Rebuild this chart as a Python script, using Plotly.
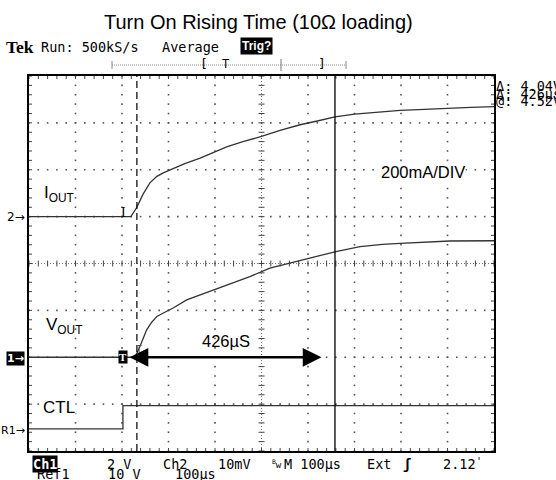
import numpy as np
import plotly.graph_objects as go

# ---------------- data ----------------
# time axis: microseconds, 100 us / div, 10 divs
t_iout = [0, 100, 219, 232, 245, 260, 275, 290, 303, 335, 368, 400, 425, 460, 500,
          540, 583, 620, 658, 700, 750, 798, 850, 900, 950, 1000]
iout_mA = [0, 0, 0, 40, 95, 144, 172, 188, 200, 226, 250, 276, 298, 320, 342,
           368, 392, 408, 426, 437, 446, 453, 458, 463, 466, 469]

t_vout = [0, 100, 228, 239, 253, 264, 275, 290, 310, 339, 368, 420, 475, 518, 561,
          604, 660, 712, 760, 798, 850, 905, 1000]
vout_V = [0, 0, 0, 0.48, 1.17, 1.5, 1.74, 1.9, 2.1, 2.45, 2.66, 3.05, 3.44, 3.80, 4.02,
          4.22, 4.51, 4.72, 4.82, 4.86, 4.92, 4.96, 4.97]

t_ctl = [0, 202, 202, 1000]
ctl_V = [0, 0, 5, 5]

# channel settings (offset in divisions, units per division)
iout_offset, iout_scale = 1.0, 200.0     # 200 mA/div
vout_offset, vout_scale = -2.0, 2.0      # Ch1 2 V/div
ctl_offset, ctl_scale = -3.53, 10.0      # Ref1 10 V/div

cursor1_us = 232
cursor2_us = 658
arrow_from_us, arrow_to_us = 213, 629

# ---------------- geometry helpers ----------------
W, H = 556, 480
L, R, T, B = 29, 62, 76, 29
PW, PH = W - L - R, H - T - B
XDIV = PW / 10.0   # px per division
YDIV = PH / 8.0


def px(x):
    return (x - L) / PW


def py(y):
    return (H - B - y) / PH


MONO = "DejaVu Sans Mono"
SANS = "Liberation Sans, Arial"
SERIF = "Liberation Serif"
TRACE = "#333333"

fig = go.Figure()

# ---------------- graticule ----------------
gx, gy = [], []
for xv in range(100, 1000, 100):
    if xv == 500:
        continue
    for yv in np.arange(-4, 4.001, 0.2):
        gx.append(xv)
        gy.append(yv)
for yv in range(-3, 4):
    if yv == 0:
        continue
    for xv in np.arange(0, 1000.1, 20):
        gx.append(xv)
        gy.append(yv)
fig.add_trace(go.Scatter(x=gx, y=gy, mode="markers", hoverinfo="skip",
                         marker=dict(symbol="square", size=1.6, color="#555", line=dict(width=0))))

tx, ty = [], []
dyc = 3.0 / YDIV
dxc = 3.0 * 100 / XDIV
# centre line cross ticks
for xv in np.arange(0, 1000.1, 20):
    tx += [xv, xv, None]
    ty += [-dyc, dyc, None]
for yv in np.arange(-4, 4.01, 0.2):
    tx += [500 - dxc, 500 + dxc, None]
    ty += [yv, yv, None]
# border ticks (inside)
for xv in np.arange(0, 1000.1, 20):
    tx += [xv, xv, None, xv, xv, None]
    ty += [-4, -4 + dyc, None, 4, 4 - dyc, None]
for yv in np.arange(-4, 4.01, 0.2):
    tx += [0, dxc, None, 1000, 1000 - dxc, None]
    ty += [yv, yv, None, yv, yv, None]
fig.add_trace(go.Scatter(x=tx, y=ty, mode="lines", line=dict(color="#444", width=1),
                         hoverinfo="skip"))

# ---------------- traces ----------------
fig.add_trace(go.Scatter(x=t_iout, y=[iout_offset + v / iout_scale for v in iout_mA],
                         mode="lines", line=dict(color=TRACE, width=1.3), hoverinfo="skip"))
fig.add_trace(go.Scatter(x=t_vout, y=[vout_offset + v / vout_scale for v in vout_V],
                         mode="lines", line=dict(color=TRACE, width=1.3), hoverinfo="skip"))
fig.add_trace(go.Scatter(x=t_ctl, y=[ctl_offset + v / ctl_scale for v in ctl_V],
                         mode="lines", line=dict(color=TRACE, width=1.3), hoverinfo="skip"))

shapes = []
# centre lines
shapes.append(dict(type="line", xref="x", yref="y", x0=500, x1=500, y0=-4, y1=4, layer="below",
                   line=dict(color="#777", width=1, dash="1px,2px")))
shapes.append(dict(type="line", xref="x", yref="y", x0=0, x1=1000, y0=0, y1=0, layer="below",
                   line=dict(color="#777", width=1, dash="1px,2px")))
# cursors
shapes.append(dict(type="line", xref="x", yref="y", x0=cursor1_us, x1=cursor1_us, y0=-4, y1=4,
                   line=dict(color="black", width=1.2, dash="7px,4px")))
shapes.append(dict(type="line", xref="x", yref="y", x0=cursor2_us, x1=cursor2_us, y0=-4, y1=4,
                   line=dict(color="black", width=1.3)))
# record bar at top
shapes.append(dict(type="line", xref="paper", yref="paper", x0=px(112), x1=px(346),
                   y0=py(65), y1=py(65), line=dict(color="#888", width=1, dash="1px,1px")))
for xb in (112, 346):
    shapes.append(dict(type="line", xref="paper", yref="paper", x0=px(xb), x1=px(xb),
                       y0=py(61), y1=py(69), line=dict(color="#888", width=1)))
shapes.append(dict(type="line", xref="paper", yref="paper", x0=px(281), x1=px(281),
                   y0=py(59), y1=py(71), line=dict(color="#777", width=1)))

ann = []


def txt(x, y, s, size=14, family=MONO, xanchor="left", color="black", bg=None, pad=0):
    a = dict(xref="paper", yref="paper", x=px(x), y=py(y), text=s, showarrow=False,
             xanchor=xanchor, yanchor="middle", borderpad=pad,
             font=dict(size=size, family=family, color=color))
    if bg:
        a["bgcolor"] = bg
    ann.append(a)


# title + header
txt(258, 22, "Turn On Rising Time (10Ω loading)", size=20, family=SANS, xanchor="center")
txt(5, 47, "<b>Tek</b>", size=17.5, family=SERIF)
txt(40, 47, "Run: 500kS/s", size=13.5)
txt(161, 47, "Average", size=13.5)
txt(256, 46, "<b>Trig?</b>", size=12, family=SANS, xanchor="center", color="white", bg="black", pad=1)
txt(204, 64, "[", size=13, xanchor="center")
txt(322, 64, "]", size=13, xanchor="center")
txt(226, 64, "T", size=12, family=SANS, xanchor="center")

# right-hand cursor readouts
txt(495, 86, "Δ: 4.04V", size=13.5)
txt(495, 94, "Δ: 426µs", size=13.5)
txt(495, 101.5, "@: 4.52V", size=13.5)

# channel markers on the left
txt(26, 217, "2→", size=12, family="DejaVu Sans", xanchor="right")
txt(25, 358, "<b>1→</b>", size=11, family="DejaVu Sans", xanchor="right", color="white", bg="black")
txt(26, 430, "R1→", size=11, family="DejaVu Sans", xanchor="right")

# signal labels
txt(43, 194, "I<sub>OUT</sub>", size=17, family=SANS)
txt(45, 326, "V<sub>OUT</sub>", size=17, family=SANS)
txt(42, 407, "CTL", size=17, family=SANS, bg="white")
txt(380, 172, "200mA/DIV", size=16.5, family=SANS, bg="white")
txt(226, 341, "426µS", size=16.5, family=SANS, xanchor="center")

# trigger markers
txt(123, 212, "I", size=14, family=SERIF, xanchor="center")
txt(123, 357, "<b>T</b>", size=11, family=SERIF, xanchor="center", color="white", bg="black")
txt(139, 349, "T", size=10, family=SANS, xanchor="center", color="#555")

# bottom readouts
txt(32, 463.5, "<b>Ch1</b>", size=13.5, color="white", bg="black")
txt(106, 463.5, "2 V", size=13.5)
txt(162, 463.5, "Ch2", size=13.5)
txt(217, 463.5, "10mV", size=13.5)
txt(271, 463.5, "<sup>B</sup>w", size=9)
txt(283, 463.5, "M 100µs", size=13.5)
txt(366, 463.5, "Ext", size=13.5)
txt(402, 463.5, "<b>ʃ</b>", size=14)
txt(442, 463.5, "2.12", size=13.5)
txt(475, 461.5, "'", size=10)
txt(36, 474, "Ref1", size=13.5)
txt(107, 474, "10 V", size=13.5)
txt(174, 474, "100µs", size=13.5)

# double arrow between the cursors
ann.append(dict(xref="x", yref="y", axref="x", ayref="y", x=arrow_to_us, y=vout_offset,
                ax=arrow_from_us, ay=vout_offset, text="", showarrow=True, arrowhead=2,
                startarrowhead=2, arrowside="end+start", arrowsize=1.5, startarrowsize=1.5,
                arrowwidth=2.5, arrowcolor="black", standoff=0, startstandoff=0))

AX = dict(showgrid=False, zeroline=False, showline=True, linecolor="black", linewidth=1.5,
          mirror=True, ticks="", showticklabels=False, fixedrange=True)

fig.update_layout(
    width=W, height=H,
    margin=dict(l=L, r=R, t=T, b=B, pad=0),
    paper_bgcolor="white", plot_bgcolor="white",
    showlegend=False,
    shapes=shapes, annotations=ann,
    xaxis=dict(range=[0, 1000], **AX),
    yaxis=dict(range=[-4, 4], **AX),
)

fig.write_html("out.html", config={"displayModeBar": False},
               post_script="document.body.style.margin='0';document.body.style.overflow='hidden';")
